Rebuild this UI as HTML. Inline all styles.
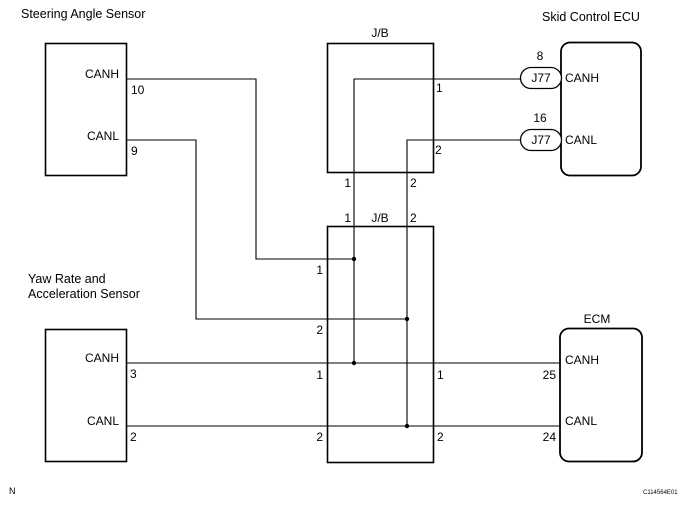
<!DOCTYPE html>
<html><head><style>
html,body{margin:0;padding:0;background:#fff;}
svg{display:block;}
text{font-family:"Liberation Sans",sans-serif;font-size:12px;fill:#000;}
</style></head><body>
<svg width="688" height="505" viewBox="0 0 688 505" xmlns="http://www.w3.org/2000/svg">
<g fill="none" stroke="#000">
<rect x="45.5" y="43.5" width="81" height="132" stroke-width="1.6"/>
<rect x="327.5" y="43.5" width="106" height="129" stroke-width="1.6"/>
<rect x="327.5" y="226.5" width="106" height="236" stroke-width="1.6"/>
<rect x="45.5" y="329.5" width="81" height="132" stroke-width="1.6"/>
<rect x="561" y="42.5" width="80" height="133" rx="9" stroke-width="1.8"/>
<rect x="560" y="328.5" width="82" height="133" rx="9" stroke-width="1.8"/>
<g stroke-width="1.1">
<polyline points="126,79 256,79 256,259 354,259"/>
<polyline points="126,140 196,140 196,319 407,319"/>
<polyline points="520,79 354,79 354,363"/>
<polyline points="520,140 407,140 407,426"/>
<line x1="126" y1="363" x2="560" y2="363"/>
<line x1="126" y1="426" x2="560" y2="426"/>
</g>
<rect x="520.5" y="67.5" width="41" height="21" rx="10.5" fill="#fff" stroke-width="1.3"/>
<rect x="520.5" y="129.5" width="41" height="21" rx="10.5" fill="#fff" stroke-width="1.3"/>
</g>
<g fill="#000">
<circle cx="354" cy="259" r="2.2"/><circle cx="407" cy="319" r="2.2"/>
<circle cx="354" cy="363" r="2.2"/><circle cx="407" cy="426" r="2.2"/>
</g>
<text x="21" y="18" style="font-size:12.5px">Steering Angle Sensor</text>
<text x="542" y="21" style="font-size:12.5px">Skid Control ECU</text>
<text x="380" y="37" text-anchor="middle">J/B</text>
<text x="119" y="78" text-anchor="end">CANH</text><text x="131" y="94">10</text>
<text x="119" y="140" text-anchor="end">CANL</text><text x="131" y="155">9</text>
<text x="436" y="92">1</text><text x="435" y="154">2</text>
<text x="540" y="60" text-anchor="middle">8</text><text x="540" y="122" text-anchor="middle">16</text>
<text x="541" y="82" text-anchor="middle">J77</text><text x="541" y="144" text-anchor="middle">J77</text>
<text x="565" y="82">CANH</text><text x="565" y="144">CANL</text>
<text x="351" y="187" text-anchor="end">1</text><text x="410" y="187">2</text>
<text x="351" y="222" text-anchor="end">1</text><text x="380" y="222" text-anchor="middle">J/B</text><text x="410" y="222">2</text>
<text x="323" y="274" text-anchor="end">1</text><text x="323" y="334" text-anchor="end">2</text>
<text x="323" y="379" text-anchor="end">1</text><text x="323" y="441" text-anchor="end">2</text>
<text x="437" y="379">1</text><text x="437" y="441">2</text>
<text x="28" y="283" style="font-size:12.5px">Yaw Rate and</text>
<text x="28" y="298" style="font-size:12.5px">Acceleration Sensor</text>
<text x="119" y="362" text-anchor="end">CANH</text><text x="130" y="378">3</text>
<text x="119" y="425" text-anchor="end">CANL</text><text x="130" y="441">2</text>
<text x="597" y="323" text-anchor="middle">ECM</text>
<text x="565" y="364">CANH</text><text x="565" y="425">CANL</text>
<text x="556" y="379" text-anchor="end">25</text><text x="556" y="441" text-anchor="end">24</text>
<text x="9" y="494" style="font-size:9px">N</text>
<text x="643" y="494" style="font-size:6px">C114564E01</text>
</svg>
</body></html>
